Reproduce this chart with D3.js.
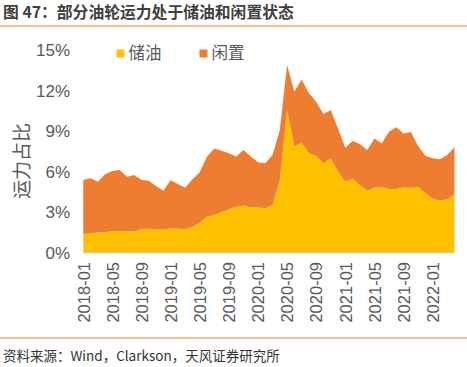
<!DOCTYPE html>
<html>
<head>
<meta charset="utf-8">
<script src="https://cdn.jsdelivr.net/npm/d3@7"></script>
<style>
  body { margin: 0; background: #fff; }
  svg { display: block; }
</style>
</head>
<body>
<div id="chart"></div>
<script>
var width = 467,
    height = 367

// monthly, 2018-01 .. 2022-04, % of tanker capacity
var storage = [1.41, 1.46, 1.51, 1.53, 1.63, 1.63, 1.63, 1.58, 1.78, 1.80, 1.75, 1.73,
  1.83, 1.80, 1.78, 1.95, 2.25, 2.69, 2.81, 3.01, 3.23, 3.43, 3.51, 3.38,
  3.38, 3.31, 3.56, 5.41, 10.59, 7.88, 8.17, 7.38, 7.19, 6.64, 7.01, 6.02,
  5.28, 5.53, 5.04, 4.62, 4.84, 4.89, 4.74, 4.74, 4.86, 4.84, 4.89, 4.42,
  4.05, 3.88, 3.98, 4.35];
var idle = [4.00, 4.07, 3.77, 4.30, 4.44, 4.52, 4.02, 4.20, 3.63, 3.56, 3.21, 2.89,
  3.55, 3.31, 3.06, 3.51, 3.73, 4.45, 4.94, 4.57, 4.15, 3.71, 4.12, 3.76,
  3.34, 3.33, 3.70, 3.70, 3.34, 4.07, 4.69, 4.45, 4.02, 3.66, 3.58, 3.21,
  2.52, 2.77, 3.03, 3.01, 3.65, 3.23, 4.25, 4.57, 4.00, 4.12, 3.04, 2.79,
  2.96, 3.06, 3.28, 3.48];
var seriesNames = ["储油", "闲置"];
var colors = ["#FFC000", "#ED7D31"];
var xTicks = ["2018-01", "2018-05", "2018-09", "2019-01", "2019-05", "2019-09", "2020-01",
  "2020-05", "2020-09", "2021-01", "2021-05", "2021-09", "2022-01"];
var yTicks = [0, 3, 6, 9, 12, 15];

var fmt = d3.timeFormat("%Y-%m");
var months = d3.timeMonth.range(new Date(2018, 0, 1), new Date(2022, 4, 1)).map(fmt);

var rows = months.map(function(m, i) {
  return { month: m, "储油": storage[i], "闲置": idle[i] };
});

var svg = d3.select("#chart").append("svg")
    .attr("width", width)
    .attr("height", height)
    .style("font-family", "'Noto Sans CJK SC', 'Liberation Sans', sans-serif");

// title + rules
svg.append("text")
    .attr("x", 3)
    .attr("y", 18)
    .style("font-size", "15.8px")
    .style("font-weight", "bold")
    .style("fill", "#404040")
    .text("图 47：部分油轮运力处于储油和闲置状态");

svg.append("line")
    .attr("x1", 0).attr("x2", width)
    .attr("y1", 26).attr("y2", 26)
    .style("stroke", "#ED7D31")
    .style("stroke-width", 1.2);

svg.append("line")
    .attr("x1", 0).attr("x2", width)
    .attr("y1", 338).attr("y2", 338)
    .style("stroke", "#ED7D31")
    .style("stroke-width", 1.2);

svg.append("text")
    .attr("x", 3)
    .attr("y", 361)
    .style("font-size", "13.5px")
    .style("fill", "#333")
    .text("资料来源：Wind，Clarkson，天风证券研究所");

var x = d3.scalePoint()
    .domain(months)
    .range([83.3, 454.5]);

var y = d3.scaleLinear()
    .domain([0, 15])
    .range([253, 50.5]);

var stacked = d3.stack().keys(seriesNames)(rows);

var area = d3.area()
    .x(function(d) { return x(d.data.month); })
    .y0(function(d) { return y(d[0]); })
    .y1(function(d) { return y(d[1]); });

var g = svg.append("g");

g.selectAll(".layer")
    .data(stacked)
    .enter()
    .append("path")
    .attr("class", "layer")
    .attr("d", area)
    .style("fill", function(d, i) { return colors[i]; });

// baseline
g.append("line")
    .attr("x1", 83.3).attr("x2", 454.5)
    .attr("y1", y(0)).attr("y2", y(0))
    .style("stroke", "#d9d9d9")
    .style("stroke-width", 1);

// y axis
var yAxis = svg.append("g")
    .attr("transform", "translate(70,0)")
    .call(d3.axisLeft(y).tickValues(yTicks).tickSize(0).tickPadding(0)
      .tickFormat(function(d) { return d + "%"; }));
yAxis.select(".domain").remove();
yAxis.selectAll("text")
    .style("font-family", "'Liberation Sans Narrow', 'Arial Narrow', 'Liberation Sans', sans-serif")
    .style("font-size", "17px")
    .style("fill", "#595959");

// x axis
var xAxis = svg.append("g")
    .attr("transform", "translate(0," + 262 + ")")
    .call(d3.axisBottom(x).tickValues(xTicks).tickSize(0));
xAxis.select(".domain").remove();
xAxis.selectAll("text")
    .attr("transform", "rotate(-90)")
    .attr("x", 0)
    .attr("y", 0)
    .attr("dy", "0.35em")
    .style("text-anchor", "end")
    .style("font-family", "'Liberation Sans', sans-serif")
    .style("font-size", "16.5px")
    .style("fill", "#595959");

// y title
svg.append("text")
    .attr("transform", "translate(22,161) rotate(-90)")
    .attr("text-anchor", "middle")
    .attr("dy", "0.35em")
    .style("font-size", "19px")
    .style("fill", "#595959")
    .text("运力占比");

// legend
var legend = svg.append("g");
var legendX = [116.5, 199.5];
seriesNames.forEach(function(name, i) {
  legend.append("rect")
      .attr("x", legendX[i])
      .attr("y", 49.5)
      .attr("width", 8)
      .attr("height", 8)
      .style("fill", colors[i]);
  legend.append("text")
      .attr("x", legendX[i] + 12)
      .attr("y", 53.5)
      .attr("dy", "0.35em")
      .style("font-size", "16.5px")
      .style("fill", "#595959")
      .text(name);
});
</script>
</body>
</html>
